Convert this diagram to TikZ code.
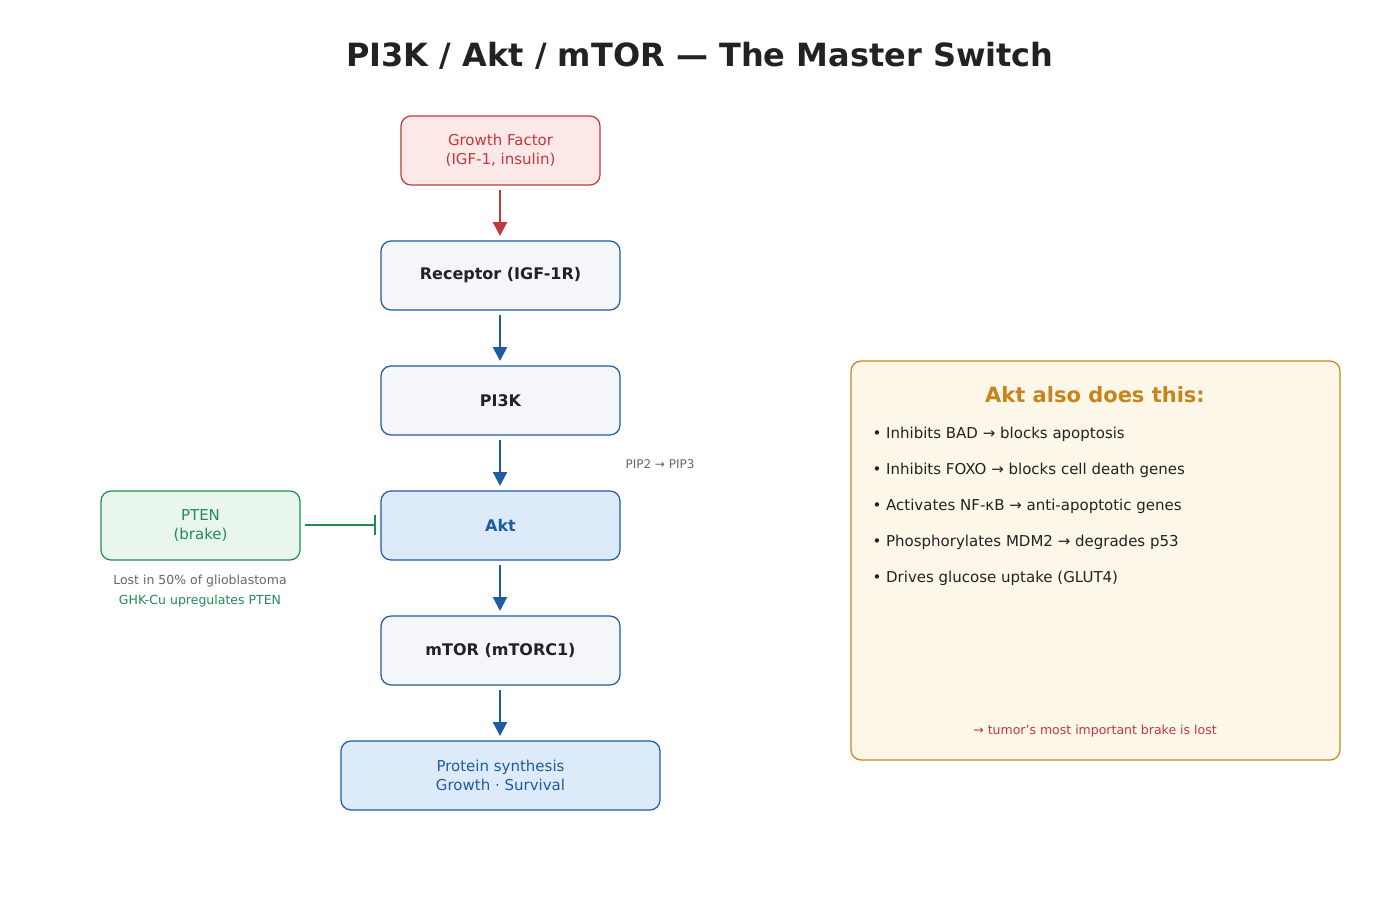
\documentclass[tikz,border=0pt]{standalone}
\usepackage{fontspec}
\setmainfont{DejaVu Sans}
\usetikzlibrary{arrows.meta}
\definecolor{rd}{HTML}{C0393B}\definecolor{rdf}{HTML}{FDE8E8}
\definecolor{bl}{HTML}{1F5BA0}\definecolor{blf}{HTML}{DDEAF9}\definecolor{gf}{HTML}{F4F6FA}
\definecolor{gr}{HTML}{228B55}\definecolor{grf}{HTML}{E8F6EE}
\definecolor{or}{HTML}{C8841C}\definecolor{orf}{HTML}{FDF7E9}
\definecolor{tx}{HTML}{222222}\definecolor{gy}{HTML}{666666}
\begin{document}
\begin{tikzpicture}[x=1pt,y=-1pt,
 box/.style={draw=bl,line width=1.2pt,rounded corners=10pt,fill=gf,minimum height=69pt,align=center,font=\fontsize{15}{19}\selectfont},
 arr/.style={-{Triangle[length=14pt,width=14pt]},line width=2.2pt,draw=bl}]
\useasboundingbox (0,0) rectangle (1400,900);
\node[font=\fontsize{32}{36}\selectfont\bfseries,text=tx] (title) at (700,56) {PI3K / Akt / mTOR — The Master Switch};
\node[box,draw=rd,fill=rdf,text=rd,minimum width=199pt] (gf) at (500.5,150.5) {Growth Factor\\(IGF-1, insulin)};
\node[box,minimum width=239pt,text=tx,font=\fontsize{16}{19}\selectfont\bfseries] (rec) at (500.5,275.5) {Receptor (IGF-1R)};
\node[box,minimum width=239pt,text=tx,font=\fontsize{16}{19}\selectfont\bfseries] (pi3k) at (500.5,400.5) {PI3K};
\node[box,minimum width=239pt,fill=blf,text=bl,font=\fontsize{16}{19}\selectfont\bfseries] (akt) at (500.5,525.5) {Akt};
\node[box,minimum width=239pt,text=tx,font=\fontsize{16}{19}\selectfont\bfseries] (mtor) at (500.5,650.5) {mTOR (mTORC1)};
\node[box,minimum width=319pt,fill=blf,text=bl] (prot) at (500.5,775.5) {Protein synthesis\\Growth · Survival};
\node[box,draw=gr,fill=grf,text=gr,minimum width=199pt] (pten) at (200.5,525.5) {PTEN\\(brake)};
\draw[arr,draw=rd,-{Triangle[length=14pt,width=14pt,fill=rd]},rd] (500,190) -- (500,236);
\draw[arr] (500,315) -- (500,361);
\draw[arr] (500,440) -- (500,486);
\draw[arr] (500,565) -- (500,611);
\draw[arr] (500,690) -- (500,736);
\draw[gr,line width=2.5pt,-{Bar[width=20pt]}] (305,525) -- (376,525);
\node[font=\fontsize{12}{14}\selectfont,text=gy] (pip) at (660,464) {PIP2 → PIP3};
\node[font=\fontsize{12.5}{14}\selectfont,text=gy] (lost) at (200,581) {Lost in 50\% of glioblastoma};
\node[font=\fontsize{12.5}{14}\selectfont,text=gr] (ghk) at (200,601) {GHK-Cu upregulates PTEN};
\draw[or,fill=orf,line width=1.2pt,rounded corners=10pt] (851,361) rectangle (1340,760);
\node[font=\fontsize{21}{24}\selectfont\bfseries,text=or] (ptitle) at (1095,395) {Akt also does this:};
\foreach \t [count=\i] in {Inhibits BAD → blocks apoptosis,Inhibits FOXO → blocks cell death genes,Activates NF-κB → anti-apoptotic genes,Phosphorylates MDM2 → degrades p53,Drives glucose uptake (GLUT4)}
 \node[anchor=west,font=\fontsize{15}{18}\selectfont,text=tx] (b\i) at (869,398+36*\i) {• \t};
\node[font=\fontsize{12.5}{14}\selectfont,text=rd] (foot) at (1095,731) {→ tumor's most important brake is lost};
\end{tikzpicture}
\end{document}
